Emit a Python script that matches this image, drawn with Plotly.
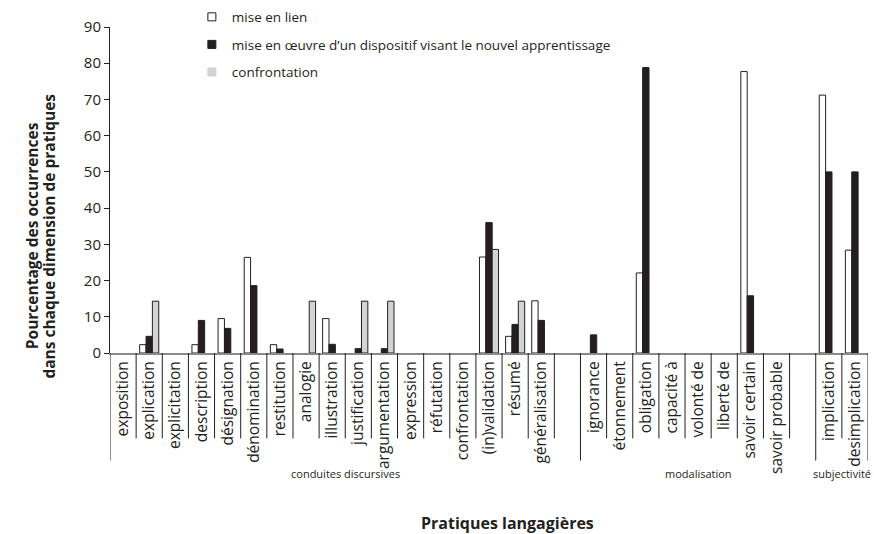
import plotly.graph_objects as go

categories = ["exposition", "explication", "explicitation", "description", "désignation",
              "dénomination", "restitution", "analogie", "illustration", "justification",
              "argumentation", "expression", "réfutation", "confrontation", "(in)validation",
              "résumé", "généralisation", " ",
              "ignorance", "étonnement", "obligation", "capacité à", "volonté de",
              "liberté de", "savoir certain", "savoir probable", "  ",
              "implication", "desimplication"]

groups = ["conduites discursives", "modalisation", "subjectivité"]
group_sizes = [18, 9, 2]

mise_en_lien = [None, 2.3, None, 2.3, 9.5, 26.4, 2.3, None, 9.5, None,
                None, None, None, None, 26.5, 4.6, 14.4, None,
                None, None, 22.1, None, None, None, 77.7, None, None,
                71.2, 28.4]
mise_en_oeuvre = [None, 4.6, None, 9.0, 6.8, 18.6, 1.1, None, 2.4, 1.2,
                  1.2, None, None, None, 36.0, 7.9, 9.0, None,
                  5.0, None, 78.8, None, None, None, 15.8, None, None,
                  50.0, 50.0]
confrontation = [None, 14.3, None, None, None, None, None, 14.3, None, 14.3,
                 14.3, None, None, None, 28.6, 14.3, None, None,
                 None, None, None, None, None, None, None, None, None,
                 None, None]

series_names = ["mise en lien",
                "mise en œuvre d’un dispositif visant le nouvel apprentissage",
                "confrontation"]

y_ticks = [0, 10, 20, 30, 40, 50, 60, 70, 80, 90]

INK = "#231f20"
FONT = "'Open Sans', Lato, sans-serif"
fills = ["#ffffff", INK, "#d1d3d4"]
values = [mise_en_lien, mise_en_oeuvre, confrontation]

fig = go.Figure()
for name, vals, fc in zip(series_names, values, fills):
    fig.add_trace(go.Bar(x=categories, y=vals, name=name, showlegend=False,
                         marker=dict(color=fc, line=dict(color=INK, width=1))))
# legend entries with small square markers
for name, fc in zip(series_names, fills):
    fig.add_trace(go.Scatter(x=[categories[0]], y=[None], name=name, mode="markers",
                             legendgroup=name,
                             marker=dict(symbol="square", size=8, color=fc,
                                         line=dict(color=INK if fc == "#ffffff" else fc, width=1))))

# separators below the axis
n = len(categories)
bounds = [0]
acc = 0
for s in group_sizes:
    acc += s
    bounds.append(acc)
shapes = []
for i in range(n + 1):
    long_line = i in bounds
    shapes.append(dict(type="line", xref="x", yref="paper",
                       x0=i - 0.5, x1=i - 0.5, y0=0, y1=-0.33 if long_line else -0.262,
                       line=dict(color=INK, width=1)))

annotations = []
start = 0
for g, s in zip(groups, group_sizes):
    center = start + (s - 1) / 2
    annotations.append(dict(text=g, x=center, xref="x", y=-0.37, yref="paper",
                            showarrow=False, font=dict(size=11, color=INK, family=FONT),
                            xanchor="center", yanchor="middle"))
    start += s

annotations.append(dict(text="<b>Pratiques langagières</b>", x=0.525, xref="paper",
                        y=-0.52, yref="paper", showarrow=False, yanchor="middle",
                        font=dict(size=16, color=INK, family=FONT)))
annotations.append(dict(text="<b>Pourcentage des occurrences</b>",
                        x=-0.1035, xref="paper", y=0.36, yref="paper", showarrow=False,
                        xanchor="center", yanchor="middle",
                        textangle=-90, font=dict(size=15.5, color=INK, family=FONT)))
annotations.append(dict(text="<b>dans chaque dimension de pratiques</b>",
                        x=-0.0805, xref="paper", y=0.36, yref="paper", showarrow=False,
                        xanchor="center", yanchor="middle",
                        textangle=-90, font=dict(size=15.5, color=INK, family=FONT)))

fig.update_layout(
    width=874, height=534,
    margin=dict(l=110, r=6, t=27, b=181, autoexpand=False),
    paper_bgcolor="white", plot_bgcolor="white",
    barmode="group", bargap=0.27, bargroupgap=0,
    font=dict(family=FONT, color=INK, size=14),
    shapes=shapes, annotations=annotations,
    legend=dict(x=0.108, xanchor="left", y=1.078, yanchor="top",
                font=dict(size=13.5, color=INK, family=FONT),
                tracegroupgap=7, bgcolor="rgba(0,0,0,0)"),
    xaxis=dict(type="category", categoryorder="array", categoryarray=categories,
               range=[-0.5, n - 0.5], tickangle=-90, ticks="", showgrid=False,
               showline=True, linecolor="#8a8a8a", linewidth=2,
               tickfont=dict(size=15.5, color=INK, family=FONT)),
    yaxis=dict(range=[0, 90], tickvals=y_ticks, showgrid=False, zeroline=False,
               showline=True, linecolor=INK, linewidth=1, ticks="outside",
               ticklen=5, tickcolor=INK, tickfont=dict(size=15, color=INK, family=FONT)),
)

fig.write_html("out.html", config={"displayModeBar": False},
               post_script="document.body.style.margin='0';document.body.style.overflow='hidden';")
